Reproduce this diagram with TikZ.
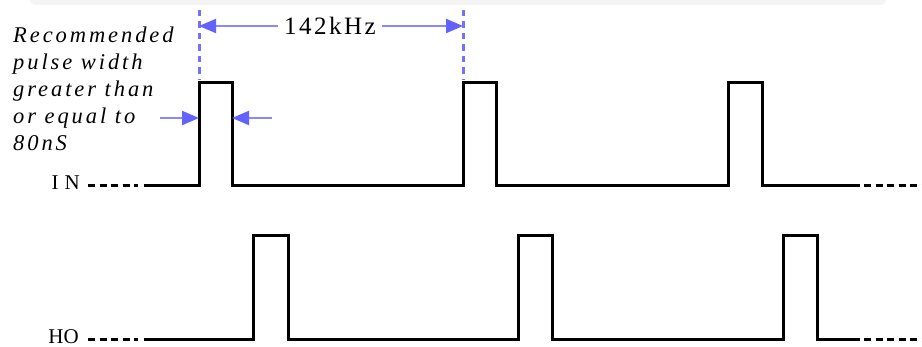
\documentclass[tikz,border=0pt]{standalone}
\usepackage{fontspec}
\setmainfont{Liberation Serif}
\usetikzlibrary{arrows.meta, positioning}
\definecolor{tmblue}{HTML}{6262FF}
\definecolor{tmband}{HTML}{F4F4F4}

\begin{document}
\begin{tikzpicture}[x=1pt, y=-1pt,
    wave/.style={line width=3pt, black, line join=miter},
    lead/.style={line width=3pt, black, dash pattern=on 7pt off 4.5pt},
    marker/.style={line width=3pt, tmblue!90, dash pattern=on 6.5pt off 5pt},
    dimline/.style={-{Triangle[length=17pt, width=14pt, color=tmblue]},
                    line width=2pt, tmblue!75},
    siglabel/.style={anchor=base east, inner sep=0pt, font=\fontsize{21}{24}\selectfont},
    freqlabel/.style={inner sep=6pt, font=\fontsize{25}{28}\selectfont\addfontfeature{LetterSpace=10}},
    note/.style={anchor=north west, inner sep=0pt, align=left,
                 font=\itshape\fontsize{22.5}{27}\selectfont\addfontfeature{LetterSpace=13}}
  ]
    \useasboundingbox (0,0) rectangle (922,347);
    \fill[tmband, rounded corners=5pt] (30,-6) rectangle (886,5);

    % signal names
    \node[siglabel] (in) at (80,190) {I\hspace{6pt}N};
    \node[siglabel] (ho) at (79,344) {HO};

    % edges of the first two IN pulses
    \coordinate (inR1) at (199,186);
    \coordinate (inF1) at (232,186);
    \coordinate (inR2) at (463,186);

    % IN waveform
    \draw[lead] (88,186) -- (138,186);
    \draw[wave] (144,186) -- (inR1) -- (199,83) -- (232,83) -- (inF1)
                -- (inR2) -- (463,83) -- (496,83) -- (496,186)
                -- (728,186) -- (728,83) -- (762,83) -- (762,186) -- (860,186);
    \draw[lead] (864,186) -- (922,186);

    % HO waveform
    \draw[lead] (88,340) -- (138,340);
    \draw[wave] (144,340) -- (253,340) -- (253,236) -- (288,236) -- (288,340)
                -- (518,340) -- (518,236) -- (552,236) -- (552,340)
                -- (783,340) -- (783,236) -- (817,236) -- (817,340) -- (860,340);
    \draw[lead] (864,340) -- (922,340);

    % period marker
    \node[freqlabel] (freq) at (330,26) {142kHz};
    \coordinate (mark1) at (199,10);
    \coordinate (mark2) at (463,10);
    \draw[marker] (mark1) -- (mark1 |- 0,80);
    \draw[marker] (mark2) -- (mark2 |- 0,80);
    \draw[dimline] (freq.west) -- (mark1 |- freq);
    \draw[dimline] (freq.east) -- (mark2 |- freq);

    % pulse width marker
    \coordinate (wLeft) at (160,118);
    \coordinate (wRight) at (272,118);
    \draw[dimline] (wLeft) -- (inR1 |- wLeft);
    \draw[dimline] (wRight) -- (inF1 |- wRight);

    \node[note] (hint) at (13,27) {Recommended\\pulse width\\greater than\\or equal to\\80nS};
  \end{tikzpicture}
\end{document}
